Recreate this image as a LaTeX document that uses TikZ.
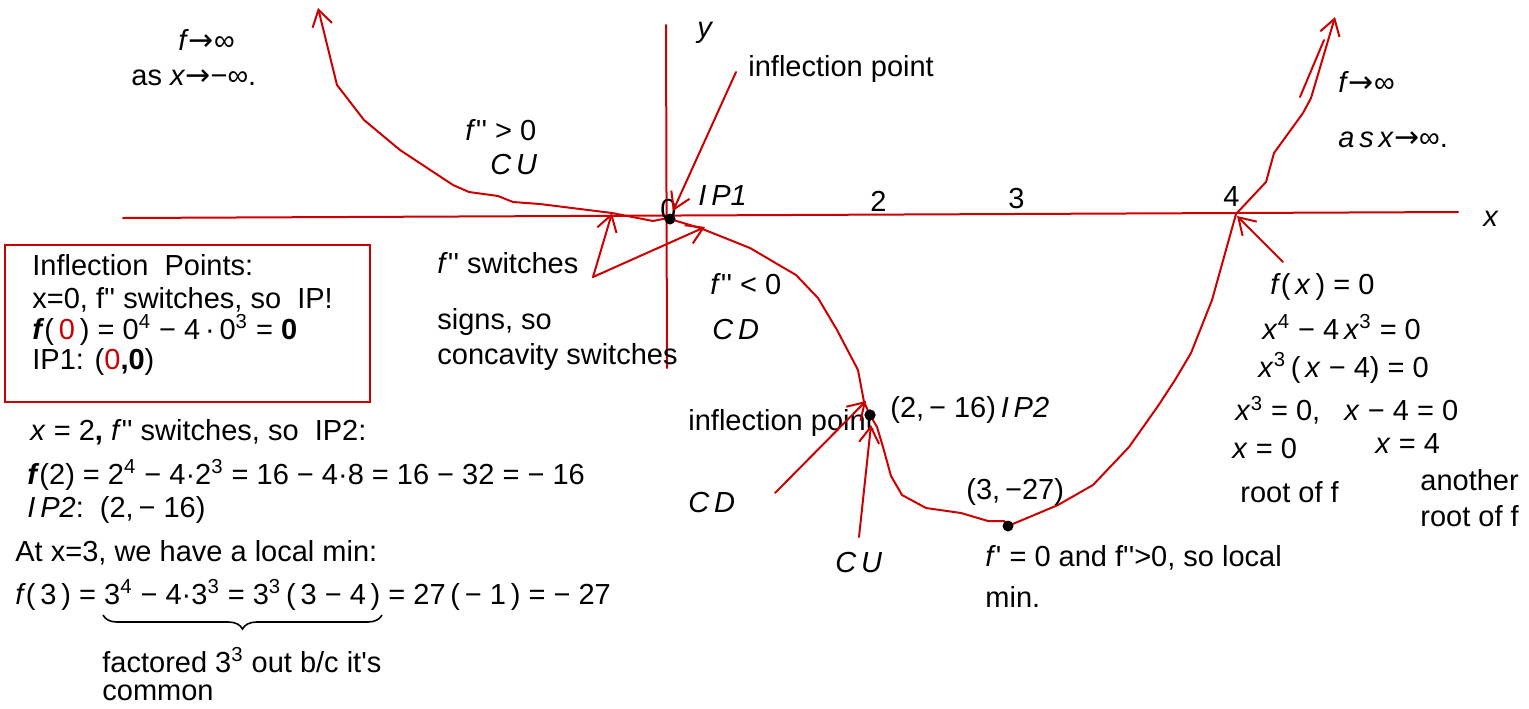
\documentclass[tikz,border=0pt]{standalone}
\usepackage{fontspec}
\newfontfamily\notefont{Liberation Sans}
\newfontfamily\arrowfont{DejaVu Sans}
\usetikzlibrary{arrows.meta,decorations.pathreplacing}
\definecolor{sketchred}{RGB}{204,0,0}
\tikzset{
  note/.style={inner sep=0pt, anchor=west, font=\notefont\fontsize{14.5}{17}\selectfont},
  sketch/.style={draw=sketchred, line width=1pt, line cap=round, line join=round},
  pointer/.style={sketch, -{Straight Barb[length=8pt,width=10pt]}},
  ptdot/.style={circle, fill=black, inner sep=0pt, minimum size=5.5pt}
}
\newcommand{\sq}[1]{\textsuperscript{#1}}
\newcommand{\tto}{{\arrowfont\fontsize{15}{17}\selectfont →}}
\begin{document}
\begin{tikzpicture}[x=0.5pt, y=-0.5pt]
\useasboundingbox (0,0) rectangle (1529,708);
% Points on the sketched graph
\coordinate (IP1) at (670,219);
\coordinate (IP2) at (870,415);
\coordinate (locmin) at (1008,526);
\coordinate (root4) at (1236,214);
% Axes
\draw[sketch] (123,218) -- (1458,212);
\draw[sketch] (666,25) -- (667,368);
\node[note] (lblx) at (1483,219) {\textit{x}};
\node[note] (lbly) at (697,33) {\textit{y}};
\node[note] (lblZero) at (660,210) {0};
\node[note] (tickTwo) at (870,201) {2};
\node[note] (tickThree) at (1008,199) {3};
\node[note] (tickFour) at (1223,197) {4};
\node[note] (lblIPone) at (698,196) {\textit{I\,P1}};
% The curve, hand sketched as a polyline
\draw[sketch, {Straight Barb[length=8pt,width=10pt]}-{Straight Barb[length=8pt,width=10pt]}]
  (318,8) -- (337,85) -- (364,120) -- (400,150) -- (453,185) -- (469,192)
  -- (498,196) -- (513,202) -- (540,204) -- (612,213) -- (653,221) -- (663,219)
  -- (IP1) -- (700,228) -- (750,248) -- (796,275) -- (818,298) -- (837,330)
  -- (858,370) -- (864,402) -- (IP2) -- (877,427) -- (883,447) -- (891,476)
  -- (902,495) -- (926,508) -- (961,513) -- (988,521) -- (1004,521) -- (locmin)
  -- (1058,505) -- (1093,485) -- (1129,447) -- (1158,406) -- (1175,380)
  -- (1191,353) -- (1212,300) -- (root4) -- (1266,182) -- (1274,153)
  -- (1303,113) -- (1311,98) -- (1335,17);
\draw[sketch] (1300,97) -- (1324,40);
% Dots
\node[ptdot] (dotIPone) at (IP1) {};
\node[ptdot] (dotIPtwo) at (IP2) {};
\node[ptdot] (dotMin) at (locmin) {};
% End behaviour
\node[note] (lblFinfL) at (178,40) {\textit{f}\tto∞};
\node[note] (lblAsL) at (131,78) {as \textit{x}\tto−∞.};
\node[note] (lblFinfR) at (1338,82) {\textit{f}\tto∞};
\node[note] (lblAsR) at (1338,140) {\textit{a\,s\,x}\tto∞.};
% Concavity labels
\node[note] (lblFppPos) at (465,130) {\textit{f}'' > 0};
\node[note] (lblCUa) at (490,165) {\textit{C\,U}};
\node[note] (lblFppNeg) at (710,284) {\textit{f}'' < 0};
\node[note] (lblCDa) at (712,330) {\textit{C\,D}};
\node[note] (lblSwitch) at (437,263) {\textit{f}'' switches};
\node[note] (lblSigns) at (437,322) {signs, so};
\node[note] (lblConc) at (437,357) {concavity switches};
\node[note] (lblInflA) at (748,69) {inflection point};
\coordinate (tailInflA) at (736,72);
\coordinate (tailSwitch) at (593,277);
\draw[pointer] (tailInflA) -- (673,211);
\draw[pointer] (tailSwitch) -- (612,213);
\draw[pointer] (tailSwitch) -- (705,227);
% Second inflection point and local min
\node[note] (lblInflB) at (688,423) {inflection point};
\node[ptdot] at (IP2) {};
\node[note] (lblIPtwo) at (890,410) {(2,\,− 16)\,\textit{I\,P2}};
\node[note] (lblCDb) at (688,503) {\textit{C\,D}};
\node[note] (lblCUb) at (835,563) {\textit{C\,U}};
\coordinate (tailCDb) at (775,493);
\coordinate (tailCUb) at (859,537);
\draw[pointer] (tailCDb) -- (866,401);
\draw[pointer] (tailCUb) -- (871,425);
\node[note] (lblMinPt) at (966,492) {(3,\,−27)};
\node[note] (lblMinA) at (985,558) {\textit{f}' = 0 and f''>0, so local};
\node[note] (lblMinB) at (985,597) {min.};
% Roots
\node[note] (rootA) at (1270,287) {\textit{f}(\,\textit{x}\,) = 0};
\node[note] (rootB) at (1262,327) {\textit{x}\sq{4} − 4\,\textit{x}\sq{3} = 0};
\node[note] (rootC) at (1258,368) {\textit{x}\sq{3}\,(\,\textit{x} − 4) = 0};
\node[note] (rootD) at (1235,410) {\textit{x}\sq{3} = 0,\ \ \ \textit{x} − 4 = 0};
\node[note] (rootE) at (1232,449) {\textit{x} = 0};
\node[note] (rootF) at (1375,444) {\textit{x} = 4};
\node[note] (rootG) at (1240,492) {root of f};
\node[note] (rootH) at (1420,480) {another};
\node[note] (rootI) at (1420,516) {root of f};
\coordinate (tailRoot) at (1283,262);
\draw[pointer] (tailRoot) -- (1237,216);
% Boxed work for IP1
\draw[draw=sketchred, line width=0.8pt] (5,245) rectangle (370,402);
\node[note] (boxA) at (32,265) {Inflection\ \ Points:};
\node[note] (boxB) at (32,300) {x=0, f'' switches, so\ \ IP!};
\node[note] (boxC) at (32,330) {\textbf{\textit{f}}(\,\textcolor{sketchred}{0}\,) = 0\sq{4} − 4\,·\,0\sq{3} = \textbf{0}};
\node[note] (boxD) at (32,362) {IP1: (\textcolor{sketchred}{0}\textbf{,0})};
% Work for IP2 and the local min
\node[note] (workA) at (30,432) {\textit{x} = 2\textbf{,} \textit{f}'' switches, so\ \ IP2:};
\node[note] (workB) at (27,475) {\textbf{\textit{f}}(2) = 2\sq{4} − 4·2\sq{3} = 16 − 4·8 = 16 − 32 = − 16};
\node[note] (workC) at (27,510) {\textit{I\,P2}:\ \ (2,\,− 16)};
\node[note] (workD) at (15,553) {At x=3, we have a local min:};
\node[note] (workE) at (15,595) {\textit{f}(\,3\,) = 3\sq{4} − 4·3\sq{3} = 3\sq{3}\,(\,3 − 4\,) = 27\,(\,− 1\,) = − 27};
\draw[decorate, decoration={brace, mirror, amplitude=7pt}, line width=0.8pt] (103,615) -- (382,615);
\node[note] (workF) at (102,660) {factored 3\sq{3} out b/c it's};
\node[note] (workG) at (102,693) {common};
\end{tikzpicture}
\end{document}
